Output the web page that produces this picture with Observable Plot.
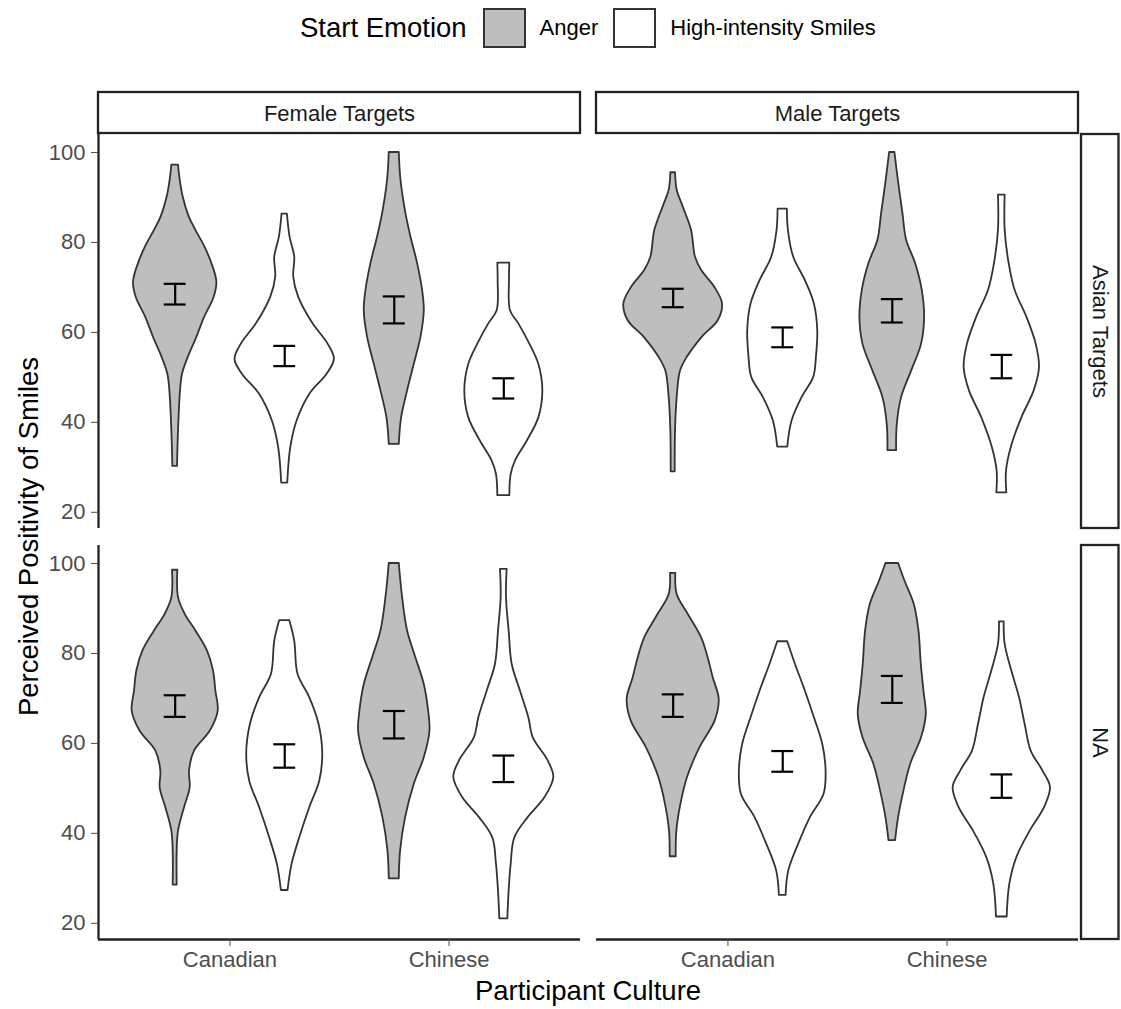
<!DOCTYPE html>
<html>
<head>
<meta charset="utf-8">
<script src="https://cdn.jsdelivr.net/npm/d3@7"></script>
<script src="https://cdn.jsdelivr.net/npm/@observablehq/plot@0.6"></script>
<style>
  body { margin: 0; background: #fff; font-family: "Liberation Sans", Arial, Helvetica, sans-serif; }
  #legend { height: 70px; box-sizing: border-box; display: flex; align-items: center; padding-left: 300px; padding-bottom: 14px; color: #000; }
  #legend .title { font-size: 27.5px; margin-right: 16px; }
  #legend .sw { width: 39px; height: 36px; border: 2px solid #333; margin-right: 14px; }
  #legend .lab { font-size: 22px; margin-right: 15px; }
</style>
</head>
<body>
<div id="legend"></div>
<div id="chart"></div>
<script>
// ---- categories ----
const genders = ["Female Targets", "Male Targets"];
const races = ["Asian Targets", "NA"];
const cultures = ["Canadian", "Chinese"];
const emotions = ["Anger", "High-intensity Smiles"];
const emotionFills = ["#BEBEBE", "#FFFFFF"];
const yTicks = [20, 40, 60, 80, 100];
const cultureTicks = [1, 2];

// ---- violin outlines: [score, half-width] ----
const femAsianCanAnger = [[97.2,10],[93.9,15],[90.1,24],[85.7,42],[82.7,62],[79.0,89],[75.3,110],[71.2,125],[67.8,117],[63.3,88],[58.9,65],[54.4,39],[50.7,22],[47.0,16],[38.1,10],[30.2,7]];
const femAsianCanSmile = [[86.3,8],[81.2,16],[76.7,30],[72.3,27],[67.8,42],[61.9,85],[57.4,130],[54.0,149],[50.7,127],[46.2,75],[40.3,37],[34.3,18],[26.5,9]];
const femAsianChiAnger = [[100,15],[93.9,20],[86.4,35],[81.2,50],[75.3,70],[69.3,85],[64.8,90],[58.9,80],[52.9,60],[47.0,40],[41.0,22],[35.1,15]];
const femAsianChiSmile = [[75.4,18],[71.5,17],[64.8,20],[61.9,45],[57.4,78],[52.9,105],[47.0,117],[41.0,105],[35.8,70],[31.4,35],[28.4,22],[23.7,18]];

const maleAsianCanAnger = [[95.5,7],[91.6,12],[87.9,30],[82.7,55],[76.7,67],[73.8,85],[70.0,125],[66.3,148],[62.6,135],[58.9,87],[54.4,42],[51.4,22],[45.5,12],[38.1,7],[29.0,6]];
const maleAsianCanSmile = [[87.4,14],[82.7,17],[76.7,33],[71.5,68],[66.3,95],[60.4,105],[54.4,101],[50.0,93],[45.5,58],[40.3,28],[34.5,15]];
const maleAsianChiAnger = [[100,8],[93.9,18],[86.4,32],[80.5,43],[75.3,70],[69.3,90],[63.4,97],[57.4,88],[51.4,58],[45.5,28],[39.5,15],[33.7,13]];
const maleAsianChiSmile = [[90.5,10],[82.7,10],[75.3,22],[69.3,40],[63.4,75],[57.4,103],[52.2,113],[47.0,97],[41.0,60],[34.3,28],[29.1,14],[24.3,15]];

const femNACanAnger = [[98.5,8],[92.4,10],[88.7,30],[85.0,62],[80.5,97],[76.1,115],[71.6,122],[67.2,129],[62.7,105],[58.3,58],[53.8,43],[50.1,45],[45.7,28],[40.5,10],[36.1,6],[28.5,6]];
const femNACanSmile = [[87.3,15],[82.7,30],[75.3,40],[70.2,75],[64.2,103],[57.6,114],[51.6,105],[45.7,75],[39.0,45],[33.1,22],[27.3,10]];
const femNAChiAnger = [[100,15],[92.4,25],[85.0,40],[79.0,65],[73.1,90],[67.2,103],[62.7,107],[56.8,90],[50.9,60],[43.5,34],[36.1,19],[29.9,15]];
const femNAChiSmile = [[98.7,10],[92.4,8],[85.0,16],[77.6,25],[71.6,50],[65.7,75],[61.3,88],[56.1,133],[52.4,150],[47.9,123],[43.5,73],[39.0,33],[33.1,22],[27.2,16],[21.0,12]];

const maleNACanAnger = [[97.8,8],[93.1,12],[88.7,45],[83.5,85],[79.0,105],[74.6,120],[69.8,138],[65.0,126],[59.0,80],[52.4,43],[46.4,23],[40.5,11],[34.8,9]];
const maleNACanSmile = [[82.6,15],[77.6,38],[71.6,68],[65.7,95],[59.8,120],[53.9,130],[48.7,124],[43.5,83],[37.6,48],[31.6,18],[26.2,10]];
const maleNAChiAnger = [[100,19],[96.1,38],[90.9,66],[85.0,80],[77.6,87],[71.6,95],[66.4,102],[61.3,88],[55.3,55],[49.4,35],[43.5,19],[38.4,10]];
const maleNAChiSmile = [[87.0,7],[82.0,10],[76.1,30],[70.2,53],[64.2,70],[58.3,88],[53.9,123],[50.2,146],[45.7,128],[40.5,85],[34.6,45],[28.7,24],[21.4,16]];

// [gender, race, culture, emotion, outline]
const violinGroups = [
  [0,0,0,0,femAsianCanAnger],[0,0,0,1,femAsianCanSmile],[0,0,1,0,femAsianChiAnger],[0,0,1,1,femAsianChiSmile],
  [1,0,0,0,maleAsianCanAnger],[1,0,0,1,maleAsianCanSmile],[1,0,1,0,maleAsianChiAnger],[1,0,1,1,maleAsianChiSmile],
  [0,1,0,0,femNACanAnger],[0,1,0,1,femNACanSmile],[0,1,1,0,femNAChiAnger],[0,1,1,1,femNAChiSmile],
  [1,1,0,0,maleNACanAnger],[1,1,0,1,maleNACanSmile],[1,1,1,0,maleNAChiAnger],[1,1,1,1,maleNAChiSmile]
];
// error bars (same order as violinGroups)
const errLow  = [66.2,52.5,62.0,45.3, 65.6,56.7,62.2,49.8, 65.9,54.6,61.1,51.4, 65.9,53.7,69.0,47.9];
const errHigh = [70.8,57.0,68.0,49.8, 69.7,61.1,67.4,55.0, 70.7,59.8,67.2,57.3, 70.9,58.3,75.0,53.1];

// ---- build tables ----
const dodge = [-0.25, 0.25];
const widthScale = 1 / 657;   // picture width units -> x units
const capHalf = 0.05;
const xDomain = [0.4, 2.6];
const yDomain = [16.4, 104];

const rows = [];
violinGroups.forEach(([g, r, c, e, shape], i) => {
  shape.forEach(([v, w]) => rows.push({
    id: i, gender: genders[g], race: races[r], emotion: emotions[e],
    xc: c + 1 + dodge[e], v, w: w * widthScale
  }));
});
const errs = violinGroups.map(([g, r, c, e], i) => ({
  gender: genders[g], race: races[r], xc: c + 1 + dodge[e], lo: errLow[i], hi: errHigh[i]
}));
const leftPanels = races.map(r => ({gender: genders[0], race: r}));
const bottomPanels = genders.map(g => ({gender: g, race: races[1]}));
const topStrips = genders.map(g => ({gender: g, race: races[0]}));
const rightStrips = races.map(r => ({gender: genders[1], race: r}));

// ---- legend (HTML) ----
const legend = d3.select("#legend");
legend.append("span").attr("class", "title").text("Start Emotion");
emotions.forEach((e, i) => {
  legend.append("div").attr("class", "sw").style("background", emotionFills[i]);
  legend.append("span").attr("class", "lab").text(e);
});

// ---- plot ----
const ink = "#222";
const plot = Plot.plot({
  width: 1121,
  height: 939,
  marginTop: 64,
  marginBottom: 70,
  marginLeft: 98,
  marginRight: 42.5,
  style: {fontFamily: "'Liberation Sans', Arial, Helvetica, sans-serif", fontSize: "22px", background: "#fff", overflow: "visible"},
  fx: {domain: genders, paddingInner: 16.5 / 498.5, paddingOuter: 0, axis: null},
  fy: {domain: races, paddingInner: 17 / 411, paddingOuter: 0, axis: null},
  x: {domain: xDomain},
  y: {domain: yDomain},
  color: {domain: emotions, range: emotionFills},
  marks: [
    Plot.areaX(rows, {
      fx: "gender", fy: "race", z: "id", y: "v",
      x1: d => d.xc - d.w, x2: d => d.xc + d.w,
      fill: "emotion", stroke: "#333", strokeWidth: 1.8, curve: "catmull-rom"
    }),
    Plot.ruleX(errs, {fx: "gender", fy: "race", x: "xc", y1: "lo", y2: "hi", stroke: "#000", strokeWidth: 2.2}),
    Plot.ruleY(errs, {fx: "gender", fy: "race", y: "lo", x1: d => d.xc - capHalf, x2: d => d.xc + capHalf, stroke: "#000", strokeWidth: 2.2}),
    Plot.ruleY(errs, {fx: "gender", fy: "race", y: "hi", x1: d => d.xc - capHalf, x2: d => d.xc + capHalf, stroke: "#000", strokeWidth: 2.2}),
    Plot.ruleX(leftPanels, {fx: "gender", fy: "race", x: () => xDomain[0], stroke: ink, strokeWidth: 2.3}),
    Plot.ruleY(bottomPanels, {fx: "gender", fy: "race", y: () => yDomain[0], stroke: ink, strokeWidth: 2.3}),
    Plot.axisY({ticks: yTicks, tickSize: 7, tickPadding: 6, fontSize: 22, color: "#4D4D4D", label: null, facetAnchor: "left", anchor: "left"}),
    Plot.axisX({ticks: cultureTicks, tickFormat: d => cultures[d - 1], tickSize: 7, tickPadding: 5, fontSize: 22, color: "#4D4D4D", label: null, facetAnchor: "bottom", anchor: "bottom"}),
    Plot.rect(topStrips, {fx: "gender", fy: "race", fill: "white", stroke: ink, strokeWidth: 2.3, insetTop: -42, insetBottom: 395}),
    Plot.text(topStrips, {fx: "gender", fy: "race", text: "gender", frameAnchor: "top", lineAnchor: "middle", textAnchor: "middle", dy: -21, fontSize: 22, fill: "#1A1A1A"}),
    Plot.rect(rightStrips, {fx: "gender", fy: "race", fill: "white", stroke: ink, strokeWidth: 2.3, insetLeft: 485, insetRight: -40.5}),
    Plot.text(rightStrips, {fx: "gender", fy: "race", text: "race", frameAnchor: "right", lineAnchor: "middle", textAnchor: "middle", dx: 21.5, rotate: 90, fontSize: 22, fill: "#1A1A1A"})
  ]
});

const svg = d3.select(plot);
svg.append("text")
  .attr("x", 588).attr("y", 930)
  .attr("text-anchor", "middle").attr("font-size", 27.5).attr("fill", "#000")
  .text("Participant Culture");
svg.append("text")
  .attr("transform", "translate(37.5, 466.5) rotate(-90)")
  .attr("text-anchor", "middle").attr("font-size", 27.5).attr("fill", "#000")
  .text("Perceived Positivity of Smiles");

document.getElementById("chart").appendChild(plot);
</script>
</body>
</html>
